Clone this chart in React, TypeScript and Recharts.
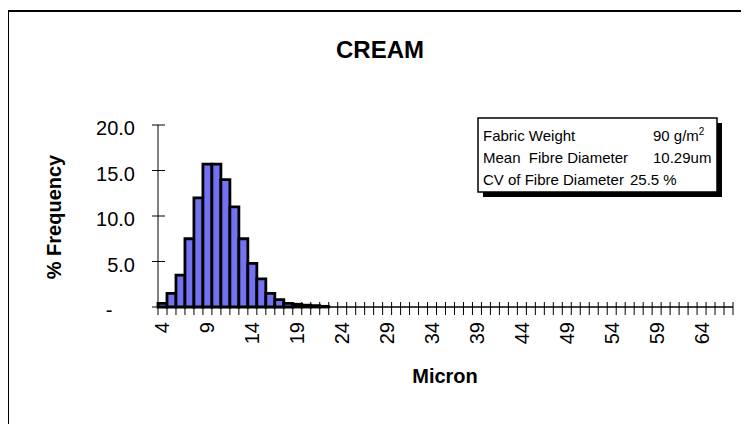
import { BarChart, Bar, XAxis, YAxis } from 'recharts'

// micron classes along the x axis
const microns = [
  4, 5, 6, 7, 8, 9, 10, 11, 12, 13, 14, 15, 16, 17, 18, 19, 20, 21, 22, 23,
  24, 25, 26, 27, 28, 29, 30, 31, 32, 33, 34, 35, 36, 37, 38, 39, 40, 41, 42, 43,
  44, 45, 46, 47, 48, 49, 50, 51, 52, 53, 54, 55, 56, 57, 58, 59, 60, 61, 62, 63,
  64, 65, 66, 67
]

// % frequency per class
const frequency = [
  0.4, 1.5, 3.5, 7.5, 12.0, 15.7, 15.7, 14.0, 11.0, 7.5, 4.8, 3.1, 1.5, 0.8, 0.4, 0.3, 0.2, 0.15, 0.07, 0,
  0, 0, 0, 0, 0, 0, 0, 0, 0, 0, 0, 0, 0, 0, 0, 0, 0, 0, 0, 0,
  0, 0, 0, 0, 0, 0, 0, 0, 0, 0, 0, 0, 0, 0, 0, 0, 0, 0, 0, 0,
  0, 0, 0, 0
]

const yTicks = [0, 5, 10, 15, 20]
const labelledMicrons = [4, 9, 14, 19, 24, 29, 34, 39, 44, 49, 54, 59, 64]

const FONT = 'Arial, "Liberation Sans", sans-serif'
const W = 741
const H = 416
const PLOT_LEFT = 150
const PLOT_RIGHT = 725
const BAND = (PLOT_RIGHT - PLOT_LEFT) / microns.length

const data = microns.map((m, i) => ({ micron: m, freq: frequency[i] }))

function XTick(props: any) {
  const { x, y, payload, index } = props
  const left = x - BAND / 2
  const show = labelledMicrons.includes(payload.value)
  return (
    <g>
      <line x1={left} x2={left} y1={y - 5} y2={y + 8} stroke="#000" strokeWidth={1} />
      {index === microns.length - 1 && (
        <line x1={x + BAND / 2} x2={x + BAND / 2} y1={y - 5} y2={y + 8} stroke="#000" strokeWidth={1} />
      )}
      {show && (
        <text
          transform={`translate(${x + 7},${y + 15}) rotate(-90)`}
          textAnchor="end"
          fontFamily={FONT}
          fontSize={20}
          fill="#000"
        >
          {payload.value}
        </text>
      )}
    </g>
  )
}

function YTick(props: any) {
  const { x, y, payload } = props
  const v = payload.value
  return (
    <g>
      <line x1={x - 6} x2={x + 7} y1={y} y2={y} stroke="#000" strokeWidth={1} />
      <text
        x={v === 0 ? x - 49 : x - 23}
        y={y + 10}
        textAnchor={v === 0 ? 'middle' : 'end'}
        fontFamily={FONT}
        fontSize={20}
        fill="#000"
      >
        {v === 0 ? '-' : v.toFixed(1)}
      </text>
    </g>
  )
}

export default function App() {
  return (
    <div style={{ position: 'relative', width: W, height: H, background: '#fff' }}>
      <div
        style={{
          position: 'absolute',
          left: -1,
          top: 2,
          width: 742,
          height: 414,
          borderTop: '2px solid #000',
          borderLeft: '2px solid #000',
          boxSizing: 'border-box'
        }}
      />
      <BarChart
        width={W}
        height={H}
        data={data}
        margin={{ top: 117, right: W - PLOT_RIGHT, left: 90, bottom: 87 }}
        barCategoryGap={0}
        style={{ position: 'absolute', left: 0, top: 0 }}
      >
        <XAxis
          dataKey="micron"
          interval={0}
          height={30}
          tickSize={0}
          tickMargin={0}
          tickLine={false}
          axisLine={{ stroke: '#000', strokeWidth: 1.5 }}
          tick={<XTick />}
        />
        <YAxis
          width={60}
          domain={[0, 20]}
          ticks={yTicks}
          tickSize={0}
          tickMargin={0}
          tickLine={false}
          axisLine={{ stroke: '#000', strokeWidth: 1 }}
          tick={<YTick />}
        />
        <Bar dataKey="freq" fill="#7373F2" stroke="#000" strokeWidth={2.8} isAnimationActive={false} />
      </BarChart>
      <svg
        width={W}
        height={H}
        style={{ position: 'absolute', left: 0, top: 0, pointerEvents: 'none' }}
        fontFamily={FONT}
      >
        <text x={372} y={50} textAnchor="middle" fontSize={24} fontWeight="bold">CREAM</text>
        <text x={437} y={375} textAnchor="middle" fontSize={20} fontWeight="bold">Micron</text>
        <text
          transform="translate(53,209) rotate(-90)"
          textAnchor="middle"
          fontSize={20}
          fontWeight="bold"
        >
          % Frequency
        </text>
        <rect x={475} y={115} width={239} height={74} fill="#000" />
        <rect x={470} y={110} width={239} height={74} fill="#fff" stroke="#000" strokeWidth={1.5} />
        <g fontSize={15}>
          <text x={475} y={133}>Fabric Weight</text>
          <text x={645} y={133}>
            90 g/m<tspan dy={-6} fontSize={10}>2</tspan>
          </text>
          <text x={475} y={155} style={{ whiteSpace: 'pre' }}>Mean  Fibre Diameter</text>
          <text x={645} y={155}>10.29um</text>
          <text x={475} y={177}>CV of Fibre Diameter</text>
          <text x={622} y={177}>25.5 %</text>
        </g>
      </svg>
    </div>
  )
}
